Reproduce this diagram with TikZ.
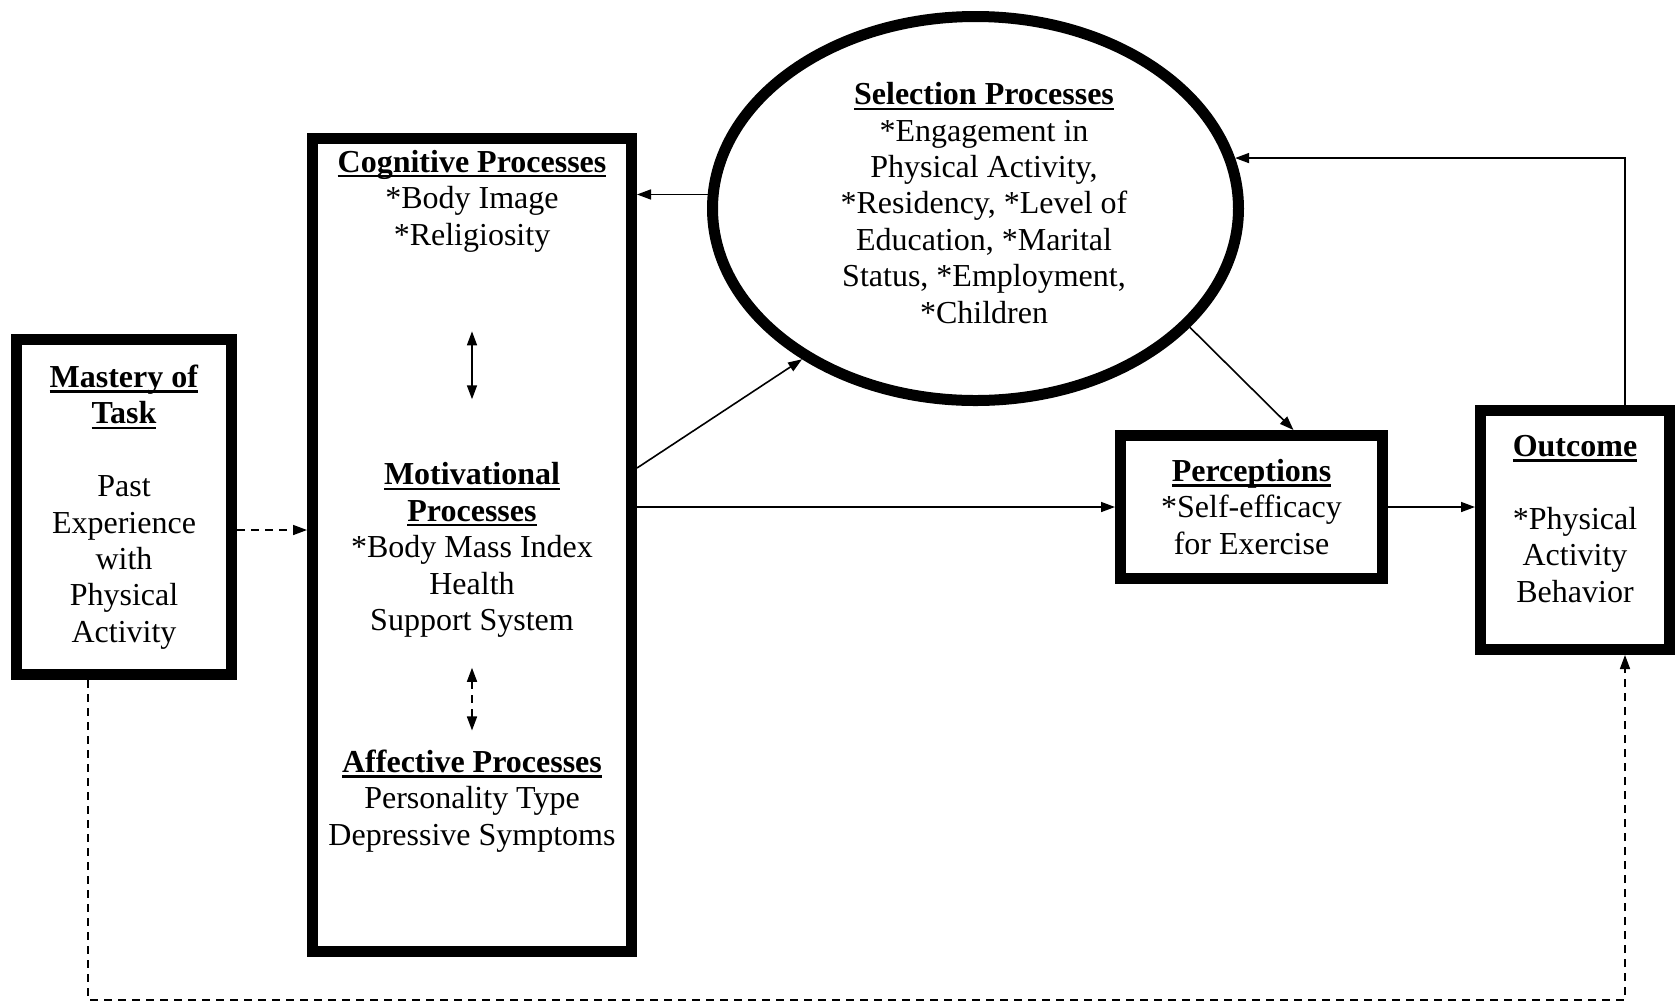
\documentclass[tikz,border=0pt]{standalone}
\usepackage{fontspec}
\setmainfont{Liberation Serif}
\usetikzlibrary{arrows.meta,shapes.geometric}
\newsavebox{\ulbox}
\newcommand{\ulhead}[1]{\sbox{\ulbox}{\textbf{#1}}\rlap{\rule[-2.6pt]{\wd\ulbox}{1.2pt}}\usebox{\ulbox}}

\begin{document}
\begin{tikzpicture}[x=0.5pt,y=-0.5pt,
    bigbox/.style={draw, line width=5.5pt, align=center, inner sep=0pt, font=\fontsize{16}{18.2}\selectfont},
    txt/.style={align=center, inner sep=0pt, font=\fontsize{16}{18.2}\selectfont},
    arr/.style={-{Triangle[length=7pt,width=5pt]}, line width=0.8pt},
    dasharr/.style={arr, dash pattern=on 4pt off 3pt},
    biarr/.style={{Triangle[length=7pt,width=5pt]}-{Triangle[length=7pt,width=5pt]}, line width=0.8pt}]

\useasboundingbox (0,0) rectangle (1677,1003);

\node[bigbox, minimum width=107.5pt, minimum height=167.5pt] (mastery) at (124,507) {\ulhead{Mastery of}\\\ulhead{Task}\\[18.2pt]Past\\Experience\\with\\Physical\\Activity};

\node[bigbox, minimum width=159.5pt, minimum height=406.5pt] (cog) at (472,545) {};
\node[txt] (cogtxt) at (472,201) {\ulhead{Cognitive Processes}\\{*}Body Image\\{*}Religiosity};
\node[txt] (mottxt) at (472,550) {\ulhead{Motivational}\\\ulhead{Processes}\\{*}Body Mass Index\\Health\\Support System};
\node[txt] (afftxt) at (472,801) {\ulhead{Affective Processes}\\Personality Type\\Depressive Symptoms};

\node[bigbox, ellipse, minimum width=263pt, minimum height=192pt] (sel) at (975.5,208.5) {};
\node[txt] (seltxt) at (984,203) {\ulhead{Selection Processes}\\{*}Engagement in\\Physical Activity,\\{*}Residency, {*}Level of\\Education, {*}Marital\\Status, {*}Employment,\\{*}Children};

\node[bigbox, minimum width=131pt, minimum height=71.5pt] (perc) at (1251.5,507) {\ulhead{Perceptions}\\{*}Self-efficacy\\for Exercise};
\node[bigbox, minimum width=94.5pt, minimum height=119.5pt] (outc) at (1575,530) {};
\node[txt] (outctxt) at (1575,519) {\ulhead{Outcome}\\[18.2pt]{*}Physical\\Activity\\Behavior};

\coordinate (loop) at (88,1000);

\draw[biarr, shorten <=39.5pt, shorten >=31.5pt] (cogtxt) -- (mottxt);
\draw[biarr, dash pattern=on 4pt off 3pt, shorten <=15pt, shorten >=9.5pt] (mottxt) -- (afftxt);
\draw[dasharr] ([yshift=-11.5pt]mastery.east) -- ([yshift=7.5pt]cog.west);
\draw[arr] (sel.177) -- (sel.177 -| cog.east);
\draw[arr] ([yshift=38.5pt]cog.east) -- (sel.221);
\draw[arr] (cog.east |- perc.west) -- (perc.west);
\draw[arr] (sel.331) -- ([xshift=21pt]perc.north);
\draw[arr] (perc.east) -- (perc.east -| outc.west);
\draw[arr] ([xshift=25pt]outc.north) |- (sel.11);
\draw[dasharr] ([xshift=-18pt]mastery.south) -- (loop) -| ([xshift=25pt]outc.south);
\end{tikzpicture}
\end{document}
